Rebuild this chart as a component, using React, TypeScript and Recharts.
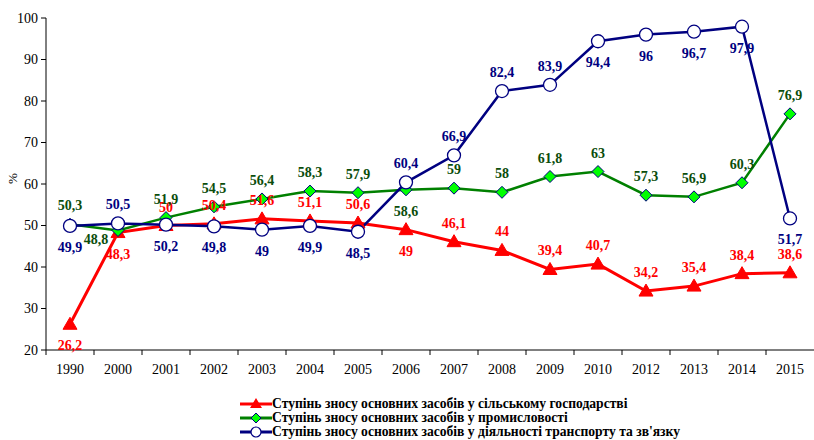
import React from "react";
import { Legend, Line, LineChart, XAxis, YAxis } from "recharts";

const years = ["1990", "2000", "2001", "2002", "2003", "2004", "2005", "2006", "2007", "2008", "2009", "2010", "2012", "2013", "2014", "2015"];

const agriculture = [26.2, 48.3, 50, 50.4, 51.6, 51.1, 50.6, 49, 46.1, 44, 39.4, 40.7, 34.2, 35.4, 38.4, 38.6];
const industry = [50.3, 48.8, 51.9, 54.5, 56.4, 58.3, 57.9, 58.6, 59, 58, 61.8, 63, 57.3, 56.9, 60.3, 76.9];
const transport = [49.9, 50.5, 50.2, 49.8, 49, 49.9, 48.5, 60.4, 66.9, 82.4, 83.9, 94.4, 96, 96.7, 97.9, 51.7];

// where each value label sits: a = above, b = below, bl = below-left
const agricultureLabels = ["b", "b", "a", "a", "a", "a", "a", "b", "a", "a", "a", "a", "a", "a", "a", "a"];
const industryLabels = ["a", "bl", "a", "a", "a", "a", "a", "b", "a", "a", "a", "a", "a", "a", "a", "a"];
const transportLabels = ["b", "a", "b", "b", "b", "b", "b", "a", "a", "a", "a", "b", "b", "b", "b", "b"];

const yTicks = [20, 30, 40, 50, 60, 70, 80, 90, 100];

const seriesNames = [
  "Ступінь зносу основних засобів у сільському господарстві",
  "Ступінь зносу основних засобів у промисловості",
  "Ступінь зносу основних засобів у діяльності транспорту та зв'язку",
];

const data = years.map((year, i) => ({
  year,
  agriculture: agriculture[i],
  industry: industry[i],
  transport: transport[i],
}));

const FONT = "'Liberation Serif', 'Times New Roman', serif";
const RED = "#ff0000";
const GREEN = "#008000";
const NAVY = "#000080";
const BAND = 48;

const fmt = (v: number) => String(v).replace(".", ",");

function makeLabel(color: string, pos: string[]) {
  return (props: any) => {
    const { x, y, value, index } = props;
    const p = pos[index] || "a";
    let dx = 0;
    let dy = -14;
    if (p === "b") dy = 26;
    if (p === "bl") {
      dy = 14;
      dx = -22;
    }
    return (
      <text
        key={`l-${index}`}
        x={x + dx}
        y={y + dy}
        textAnchor="middle"
        fontFamily={FONT}
        fontWeight="bold"
        fontSize={14}
        fill={color}
      >
        {fmt(value)}
      </text>
    );
  };
}

function Triangle({ cx, cy }: any) {
  if (cx == null) return null;
  return (
    <polygon
      points={`${cx},${cy - 7} ${cx - 7},${cy + 5} ${cx + 7},${cy + 5}`}
      fill={RED}
      stroke={RED}
    />
  );
}

function Diamond({ cx, cy }: any) {
  if (cx == null) return null;
  return (
    <polygon
      points={`${cx},${cy - 6} ${cx + 6},${cy} ${cx},${cy + 6} ${cx - 6},${cy}`}
      fill="#00ff00"
      stroke={NAVY}
      strokeWidth={1}
    />
  );
}

function Circle({ cx, cy }: any) {
  if (cx == null) return null;
  return <circle cx={cx} cy={cy} r={6.5} fill="#fff" stroke={NAVY} strokeWidth={1.3} />;
}

function YearTick({ x, y, payload }: any) {
  return (
    <g>
      <line x1={x - BAND / 2} y1={y} x2={x - BAND / 2} y2={y + 5} stroke="#000" />
      <text x={x} y={y + 24} textAnchor="middle" fontFamily={FONT} fontSize={14} fill="#000">
        {payload.value}
      </text>
    </g>
  );
}

function LegendIcon({ idx }: { idx: number }) {
  const color = [RED, GREEN, NAVY][idx];
  return (
    <svg width={32} height={12} style={{ display: "block" }}>
      <line x1={0} y1={6} x2={32} y2={6} stroke={color} strokeWidth={3} />
      {idx === 0 && <polygon points="16,0 10,10 22,10" fill={RED} />}
      {idx === 1 && <polygon points="16,1 21,6 16,11 11,6" fill="#00ff00" stroke={NAVY} />}
      {idx === 2 && <circle cx={16} cy={6} r={5} fill="#fff" stroke={NAVY} strokeWidth={1.2} />}
    </svg>
  );
}

function ChartLegend() {
  return (
    <div style={{ fontFamily: FONT, fontWeight: "bold", fontSize: 13.6, color: "#000" }}>
      {seriesNames.map((name, i) => (
        <div key={name} style={{ display: "flex", alignItems: "center", height: 14, lineHeight: "14px" }}>
          <LegendIcon idx={i} />
          <span style={{ whiteSpace: "nowrap" }}>{name}</span>
        </div>
      ))}
    </div>
  );
}

export default function App() {
  return (
    <div style={{ position: "absolute", left: 0, top: 0, width: 814, height: 440, background: "#fff" }}>
      <LineChart width={814} height={440} data={data} margin={{ top: 18, right: 0, bottom: 60, left: 0 }}>
        <XAxis
          dataKey="year"
          axisLine={{ stroke: "#000" }}
          tickLine={false}
          tickSize={0}
          tickMargin={0}
          height={30}
          interval={0}
          padding={{ left: BAND / 2, right: BAND / 2 }}
          tick={<YearTick />}
        />
        <YAxis
          domain={[20, 100]}
          ticks={yTicks}
          width={46}
          axisLine={{ stroke: "#000" }}
          tickLine={{ stroke: "#000" }}
          tickSize={5}
          tickMargin={3}
          tick={{ fontFamily: FONT, fontSize: 14, fill: "#000" }}
          label={{ value: "%", angle: -90, position: "insideLeft", offset: 12, dy: 0, style: { fontFamily: FONT, fontSize: 13, fill: "#000" } }}
        />
        <Legend
          layout="horizontal"
          verticalAlign="middle"
          align="center"
          wrapperStyle={{ left: 240, top: 397, width: "auto" }}
          content={<ChartLegend />}
        />
        <Line
          dataKey="agriculture"
          stroke={RED}
          strokeWidth={3}
          dot={<Triangle />}
          activeDot={false}
          label={makeLabel(RED, agricultureLabels)}
          isAnimationActive={false}
        />
        <Line
          dataKey="industry"
          stroke={GREEN}
          strokeWidth={2.5}
          dot={<Diamond />}
          activeDot={false}
          label={makeLabel("#0b4d0b", industryLabels)}
          isAnimationActive={false}
        />
        <Line
          dataKey="transport"
          stroke={NAVY}
          strokeWidth={2.5}
          dot={<Circle />}
          activeDot={false}
          label={makeLabel(NAVY, transportLabels)}
          isAnimationActive={false}
        />
      </LineChart>
    </div>
  );
}
